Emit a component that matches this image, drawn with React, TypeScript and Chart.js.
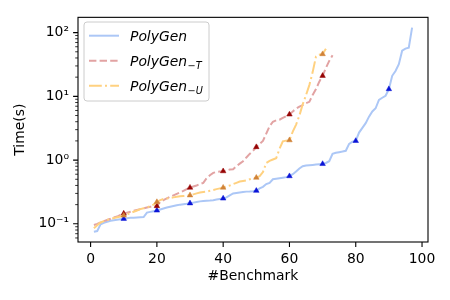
import React, { useEffect, useRef } from "react";
import { Chart, registerables } from "chart.js";

Chart.register(...registerables);

// ---- Data ----
const polyGen: number[] = [
  0.075, 0.077, 0.098, 0.104, 0.108, 0.112, 0.114, 0.116, 0.118, 0.12,
  0.122, 0.124, 0.125, 0.126, 0.127, 0.128, 0.15, 0.154, 0.158, 0.162,
  0.168, 0.174, 0.18, 0.185, 0.19, 0.195, 0.2, 0.203, 0.206, 0.21,
  0.215, 0.22, 0.225, 0.228, 0.23, 0.232, 0.235, 0.24, 0.245, 0.25,
  0.26, 0.28, 0.3, 0.305, 0.31, 0.315, 0.32, 0.322, 0.325, 0.33,
  0.36, 0.38, 0.42, 0.44, 0.5, 0.51, 0.52, 0.53, 0.54, 0.56,
  0.6, 0.66, 0.74, 0.8, 0.82, 0.83, 0.84, 0.85, 0.86, 0.87,
  0.9, 0.96, 1.25, 1.3, 1.33, 1.36, 1.4, 1.8, 1.95, 2.0,
  2.7, 3.2, 3.8, 4.8, 5.8, 6.5, 8.8, 9.5, 10.2, 13,
  21, 25, 32, 52, 56, 58, 120,
];

const polyGenT: number[] = [
  0.096, 0.1, 0.105, 0.11, 0.115, 0.12, 0.126, 0.13, 0.138, 0.145,
  0.15, 0.155, 0.16, 0.165, 0.17, 0.175, 0.18, 0.185, 0.188, 0.19,
  0.22, 0.235, 0.25, 0.265, 0.28, 0.295, 0.31, 0.33, 0.35, 0.37,
  0.385, 0.4, 0.42, 0.44, 0.52, 0.58, 0.63, 0.65, 0.66, 0.67,
  0.69, 0.71, 0.72, 0.8, 0.88, 0.96, 1.1, 1.25, 1.4, 1.6,
  1.8, 2.0, 2.6, 3.4, 4.0, 4.2, 4.3, 4.6, 4.9, 5.2,
  5.8, 6.4, 6.9, 7.3, 7.8, 8.2, 10.5, 13, 17, 21,
  28, 36, 44,
];

const polyGenU: number[] = [
  0.085, 0.095, 0.105, 0.11, 0.115, 0.12, 0.123, 0.127, 0.13, 0.135,
  0.14, 0.148, 0.155, 0.162, 0.17, 0.175, 0.18, 0.19, 0.2, 0.22,
  0.235, 0.245, 0.25, 0.255, 0.26, 0.265, 0.27, 0.273, 0.276, 0.28,
  0.29, 0.3, 0.31, 0.315, 0.32, 0.33, 0.34, 0.35, 0.36, 0.37,
  0.385, 0.4, 0.42, 0.44, 0.46, 0.47, 0.48, 0.5, 0.515, 0.53,
  0.56, 0.65, 0.9, 0.97, 1.02, 1.07, 1.5, 1.97, 2.02, 2.05,
  2.8, 3.6, 5.0, 7.5, 10.5, 15, 24, 42, 45, 46,
  56,
];

const seriesNames: string[] = ["PolyGen", "PolyGen", "PolyGen"];
const seriesSubs: string[] = ["", "\u2212T", "\u2212U"];
const xTickValues: number[] = [0, 20, 40, 60, 80, 100];
const yTickValues: number[] = [0.1, 1, 10, 100];
const yTickLabels: string[] = ["10\u207B\u00B9", "10\u2070", "10\u00B9", "10\u00B2"];
const xTitle = "#Benchmark";
const yTitle = "Time(s)";

const FONT = "'DejaVu Sans', sans-serif";
const FS = 13.9;

function toPoints(arr: number[]) {
  return arr.map((v, i) => ({ x: i + 1, y: v }));
}

function logLimits(all: number[]) {
  const lo = Math.log10(Math.min(...all));
  const hi = Math.log10(Math.max(...all));
  const m = (hi - lo) * 0.05;
  return [Math.pow(10, lo - m), Math.pow(10, hi + m)];
}

const markerRadius = (ctx: any) => ((ctx.dataIndex + 1) % 10 === 0 ? 3.2 : 0);

const framePlugin = {
  id: "frameTicks",
  afterDraw(chart: any) {
    const { ctx, chartArea } = chart;
    const xs = chart.scales.x;
    const ys = chart.scales.y;
    ctx.save();
    ctx.strokeStyle = "#000";
    // major x ticks
    ctx.lineWidth = 1.1;
    ctx.beginPath();
    for (const v of xTickValues) {
      const px = xs.getPixelForValue(v);
      ctx.moveTo(px, chartArea.bottom);
      ctx.lineTo(px, chartArea.bottom + 4.9);
    }
    for (const v of yTickValues) {
      const py = ys.getPixelForValue(v);
      ctx.moveTo(chartArea.left, py);
      ctx.lineTo(chartArea.left - 4.9, py);
    }
    ctx.stroke();
    // minor y ticks
    ctx.lineWidth = 0.8;
    ctx.beginPath();
    for (let d = -3; d <= 3; d++) {
      for (let k = 2; k <= 9; k++) {
        const v = k * Math.pow(10, d);
        if (v < ys.min || v > ys.max) continue;
        const py = ys.getPixelForValue(v);
        ctx.moveTo(chartArea.left, py);
        ctx.lineTo(chartArea.left - 2.8, py);
      }
    }
    ctx.stroke();
    // frame
    ctx.lineWidth = 1.1;
    ctx.strokeRect(chartArea.left, chartArea.top, chartArea.right - chartArea.left, chartArea.bottom - chartArea.top);

    // legend
    const lx = 84, ly = 22, lw = 125, lh = 79, r = 3;
    ctx.beginPath();
    ctx.moveTo(lx + r, ly);
    ctx.lineTo(lx + lw - r, ly);
    ctx.quadraticCurveTo(lx + lw, ly, lx + lw, ly + r);
    ctx.lineTo(lx + lw, ly + lh - r);
    ctx.quadraticCurveTo(lx + lw, ly + lh, lx + lw - r, ly + lh);
    ctx.lineTo(lx + r, ly + lh);
    ctx.quadraticCurveTo(lx, ly + lh, lx, ly + lh - r);
    ctx.lineTo(lx, ly + r);
    ctx.quadraticCurveTo(lx, ly, lx + r, ly);
    ctx.closePath();
    ctx.fillStyle = "rgba(255,255,255,0.8)";
    ctx.fill();
    ctx.strokeStyle = "#cccccc";
    ctx.lineWidth = 1;
    ctx.stroke();

    chart.data.datasets.forEach((ds: any, i: number) => {
      const cy = 35.7 + i * 25;
      ctx.save();
      ctx.strokeStyle = ds.borderColor;
      ctx.lineWidth = ds.borderWidth;
      ctx.setLineDash(ds.borderDash || []);
      ctx.beginPath();
      ctx.moveTo(89, cy);
      ctx.lineTo(119, cy);
      ctx.stroke();
      ctx.restore();
      ctx.fillStyle = "#000";
      ctx.textBaseline = "alphabetic";
      ctx.textAlign = "left";
      ctx.font = `italic ${FS}px ${FONT}`;
      const base = cy + 5;
      ctx.fillText(seriesNames[i], 130, base);
      const w = ctx.measureText(seriesNames[i]).width;
      if (seriesSubs[i]) {
        ctx.font = `italic ${FS * 0.7}px ${FONT}`;
        ctx.fillText(seriesSubs[i], 130 + w + 0.5, base + 3.5);
      }
    });
    ctx.restore();
  },
};

export default function App() {
  const ref = useRef<HTMLCanvasElement | null>(null);

  useEffect(() => {
    if (!ref.current) return;
    const [ymin, ymax] = logLimits([...polyGen, ...polyGenT, ...polyGenU]);
    const n = Math.max(polyGen.length, polyGenT.length, polyGenU.length);
    const xmin = 1 - (n - 1) * 0.05;
    const xmax = n + (n - 1) * 0.05;

    const chart = new Chart(ref.current, {
      type: "line",
      data: {
        datasets: [
          {
            label: "PolyGen",
            data: toPoints(polyGen),
            borderColor: "rgb(172,199,246)",
            borderWidth: 2,
            pointStyle: "triangle",
            pointRadius: markerRadius,
            pointHoverRadius: markerRadius,
            pointBackgroundColor: "rgb(10,20,215)",
            pointBorderColor: "rgb(10,20,215)",
            pointBorderWidth: 0.5,
            fill: false,
            tension: 0,
            order: 2,
          },
          {
            label: "PolyGen_-T",
            data: toPoints(polyGenT),
            borderColor: "rgb(226,163,163)",
            borderWidth: 2,
            borderDash: [7.4, 3.2],
            pointStyle: "triangle",
            pointRadius: markerRadius,
            pointHoverRadius: markerRadius,
            pointBackgroundColor: "rgb(150,5,5)",
            pointBorderColor: "rgb(150,5,5)",
            pointBorderWidth: 0.5,
            fill: false,
            tension: 0,
            order: 1,
          },
          {
            label: "PolyGen_-U",
            data: toPoints(polyGenU),
            borderColor: "rgb(255,209,128)",
            borderWidth: 2,
            borderDash: [12.8, 3.2, 2, 3.2],
            pointStyle: "triangle",
            pointRadius: markerRadius,
            pointHoverRadius: markerRadius,
            pointBackgroundColor: "rgb(208,130,55)",
            pointBorderColor: "rgb(208,130,55)",
            pointBorderWidth: 0.5,
            fill: false,
            tension: 0,
            order: 0,
          },
        ],
      },
      options: {
        animation: false,
        responsive: false,
        devicePixelRatio: 1,
        layout: { padding: { left: 0, right: 22, top: 15, bottom: 0 } },
        plugins: { legend: { display: false }, tooltip: { enabled: false } },
        scales: {
          x: {
            type: "linear",
            min: xmin,
            max: xmax,
            grid: { display: false, drawTicks: false },
            border: { display: false },
            afterBuildTicks: (s: any) => {
              s.ticks = xTickValues.map((v) => ({ value: v }));
            },
            afterFit: (s: any) => {
              s.height = 58;
            },
            ticks: {
              autoSkip: false,
              maxRotation: 0,
              padding: 9,
              color: "#000",
              font: { family: FONT, size: FS },
              callback: (v: any) => String(v),
            },
            title: {
              display: true,
              text: xTitle,
              color: "#000",
              font: { family: FONT, size: FS },
              padding: { top: 0, bottom: 15 },
            },
          },
          y: {
            type: "logarithmic",
            min: ymin,
            max: ymax,
            grid: { display: false, drawTicks: false },
            border: { display: false },
            afterBuildTicks: (s: any) => {
              s.ticks = yTickValues.map((v) => ({ value: v }));
            },
            afterFit: (s: any) => {
              s.width = 78;
            },
            ticks: {
              autoSkip: false,
              padding: 9,
              color: "#000",
              font: { family: FONT, size: FS },
              callback: (_v: any, i: number) => yTickLabels[i],
            },
            title: {
              display: true,
              text: yTitle,
              color: "#000",
              font: { family: FONT, size: FS },
              padding: { top: 12, bottom: 0 },
            },
          },
        },
      },
      plugins: [framePlugin],
    } as any);
    return () => chart.destroy();
  }, []);

  return (
    <div style={{ position: "fixed", left: 0, top: 0, width: 450, height: 300, background: "#fff" }}>
      <canvas ref={ref} width={450} height={300} style={{ width: 450, height: 300, display: "block" }} />
    </div>
  );
}
